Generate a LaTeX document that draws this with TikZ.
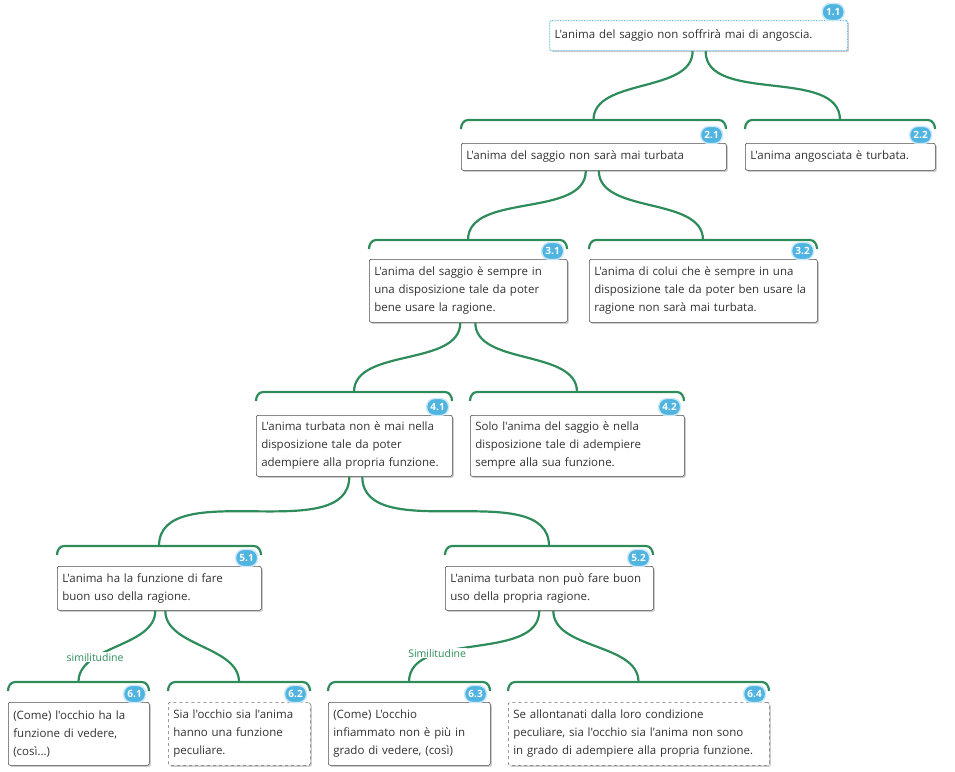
\documentclass[tikz,border=0pt]{standalone}
\usepackage{fontspec}
\setmainfont{Open Sans}[Ligatures=TeXOff]
\usetikzlibrary{shadows,calc}
\definecolor{arg_green}{RGB}{46,140,90}
\definecolor{arg_blue}{RGB}{80,180,225}
\definecolor{arg_text}{RGB}{50,50,50}
\tikzset{
  claim/.style={draw=black!70,fill=white,rounded corners=2pt,line width=0.6pt,
    anchor=north west,align=left,inner xsep=5pt,inner ysep=3pt,
    text=arg_text,font=\fontsize{11.5}{18}\selectfont,
    drop shadow={shadow xshift=1.5pt,shadow yshift=-1.5pt,fill=black!40}},
  dashclaim/.style={claim,dashed,draw=black!60},
  badge/.style={rounded corners=8pt,fill=arg_blue,draw=white!70!arg_blue,line width=1.4pt,
    text=white,font=\bfseries\fontsize{10}{10}\selectfont,inner sep=1.5pt,minimum width=22pt,minimum height=17pt},
  link/.style={arg_green,line width=2.2pt,out=-90,in=90,looseness=0.9},
  brk/.style={arg_green,line width=2.2pt},
  tag/.style={text=arg_green,font=\fontsize{10.5}{11}\selectfont,fill=white,inner sep=1pt}
}
\newcommand{\argbrack}[4]{% name, x1, x2, y
  \draw[brk] (#2,#4+9) to[out=90,in=180] (#2+7,#4) -- (#3-7,#4) to[out=0,in=90] (#3,#4+9);
  \coordinate (#1) at ({(#2+#3)/2},#4);}
\begin{document}
\hyphenpenalty=10000 \exhyphenpenalty=10000
\begin{tikzpicture}[x=1pt,y=-1pt]
\useasboundingbox (0,0) rectangle (955,771);
% claims
\node[claim,draw=arg_blue,densely dotted,line width=1.2pt,text width=288pt,minimum height=30pt] (c11) at (549,20) {L'anima del saggio non soffrirà mai di angoscia.};
\node[claim,text width=255pt,minimum height=27pt] (c21) at (461,143) {L'anima del saggio non sarà mai turbata};
\node[claim,text width=180pt,minimum height=27pt] (c22) at (745,143) {L'anima angosciata è turbata.};
\node[claim,text width=188pt,minimum height=63pt] (c31) at (369,259) {L'anima del saggio è sempre in\\ una disposizione tale da poter\\ bene usare la ragione.};
\node[claim,text width=218pt,minimum height=63pt] (c32) at (589,259) {L'anima di colui che è sempre in una\\ disposizione tale da poter ben usare la\\ ragione non sarà mai turbata.};
\node[claim,text width=186pt,minimum height=61pt] (c41) at (256,415) {L'anima turbata non è mai nella\\ disposizione tale da poter\\ adempiere alla propria funzione.};
\node[claim,text width=204pt,minimum height=61pt] (c42) at (470,415) {Solo l'anima del saggio è nella\\ disposizione tale di adempiere\\ sempre alla sua funzione.};
\node[claim,text width=194pt,minimum height=44pt] (c51) at (57,566) {L'anima ha la funzione di fare\\ buon uso della ragione.};
\node[claim,text width=198pt,minimum height=44pt] (c52) at (445,566) {L'anima turbata non può fare buon\\ uso della propria ragione.};
\node[claim,text width=131pt,minimum height=63pt] (c61) at (8,702) {(Come) l'occhio ha la\\ funzione di vedere,\\ (così...)};
\node[dashclaim,text width=132pt,minimum height=63pt] (c62) at (168,702) {Sia l'occhio sia l'anima\\ hanno una funzione\\ peculiare.};
\node[claim,text width=152pt,minimum height=63pt] (c63) at (328,702) {(Come) L'occhio\\ infiammato non è più in\\ grado di vedere, (così)};
\node[dashclaim,text width=251pt,minimum height=63pt] (c64) at (508,702) {Se allontanati dalla loro condizione\\ peculiare, sia l'occhio sia l'anima non sono\\ in grado di adempiere alla propria funzione.};
% badges
\foreach \n/\lab in {c11/1.1,c21/2.1,c22/2.2,c31/3.1,c32/3.2,c41/4.1,c42/4.2,c51/5.1,c52/5.2,c61/6.1,c62/6.2,c63/6.3,c64/6.4}
  \node[badge] at ($(\n.north east)+(-15,-8)$) {\lab};
% brackets
\argbrack{b21}{461}{726}{120}
\argbrack{b22}{745}{935}{120}
\argbrack{b31}{369}{567}{240}
\argbrack{b32}{589}{817}{240}
\argbrack{b41}{256}{452}{392}
\argbrack{b42}{470}{684}{392}
\argbrack{b51}{57}{261}{546}
\argbrack{b52}{445}{653}{546}
\argbrack{b61}{8}{149}{682}
\argbrack{b62}{168}{310}{682}
\argbrack{b63}{328}{490}{682}
\argbrack{b64}{508}{769}{682}
% links
\draw[link] ([xshift=-6pt]c11.south) to (b21);
\draw[link] ([xshift=7pt]c11.south) to (b22);
\draw[link] ([xshift=-8pt]c21.south) to (b31);
\draw[link] ([xshift=5pt]c21.south) to (b32);
\draw[link] ([xshift=-8pt]c31.south) to (b41);
\draw[link] ([xshift=7pt]c31.south) to (b42);
\draw[link] ([xshift=-5pt]c41.south) to (b51);
\draw[link] ([xshift=8pt]c41.south) to (b52);
\draw[link] ([xshift=-4pt]c51.south) to node[tag,pos=0.7] {similitudine} (b61);
\draw[link] ([xshift=6pt]c51.south) to (b62);
\draw[link] ([xshift=-10pt]c52.south) to node[tag,pos=0.7] {Similitudine} (b63);
\draw[link] ([xshift=4pt]c52.south) to (b64);
\end{tikzpicture}
\end{document}
